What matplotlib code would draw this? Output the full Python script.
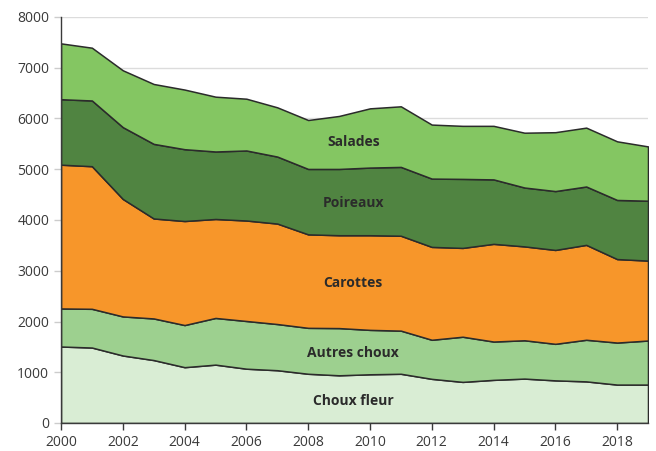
import matplotlib.pyplot as plt
import numpy as np

plt.rcParams['font.family'] = ['Open Sans', 'DejaVu Sans']

years = np.arange(2000, 2020)
choux_fleur = [1507, 1487, 1330, 1240, 1100, 1150, 1070, 1040, 970, 940,
               960, 970, 870, 810, 850, 875, 840, 820, 757, 757]
autres_choux = [750, 763, 770, 820, 830, 920, 940, 910, 905, 930,
                875, 850, 770, 890, 755, 755, 720, 820, 828, 868]
carottes = [2833, 2810, 2315, 1970, 2050, 1950, 1980, 1980, 1842, 1830,
            1865, 1870, 1830, 1750, 1925, 1850, 1850, 1870, 1645, 1575]
poireaux = [1290, 1295, 1415, 1470, 1415, 1330, 1380, 1320, 1289, 1306,
            1333, 1356, 1346, 1360, 1270, 1160, 1160, 1150, 1165, 1180]
salades = [1100, 1040, 1120, 1180, 1175, 1080, 1020, 970, 964, 1044,
           1167, 1194, 1064, 1045, 1055, 1080, 1160, 1160, 1155, 1070]

names = ['Choux fleur', 'Autres choux', 'Carottes', 'Poireaux', 'Salades']
colours = ['#d9edd4', '#9dd08f', '#f7962a', '#508441', '#84c662']
label_y = [430, 1380, 2760, 4330, 5540]

fig = plt.figure(figsize=(6.56, 4.51), dpi=100)
ax = fig.add_axes([61/656, 28/451, (648-61)/656, (423-17)/451])

ax.stackplot(years, choux_fleur, autres_choux, carottes, poireaux, salades,
             colors=colours, edgecolor='#2b2b2b', linewidth=1.1, zorder=2)

for name, ly in zip(names, label_y):
    ax.text(2009.46, ly, name, ha='center', va='center', fontsize=10,
            fontweight='bold', color='#2b2b2b', zorder=3)

ax.set_xlim(2000, 2019)
ax.set_ylim(0, 8000)
ax.set_xticks(np.arange(2000, 2019, 2))
ax.set_yticks(np.arange(0, 8001, 1000))
ax.yaxis.grid(True, color='#dcdcdc', linewidth=1, zorder=0)
ax.set_axisbelow(True)
for s in ['top', 'right']:
    ax.spines[s].set_visible(False)
for s in ['left', 'bottom']:
    ax.spines[s].set_color('#3a3a3a')
    ax.spines[s].set_linewidth(1.0)
ax.tick_params(axis='both', labelsize=10, labelcolor='#3a3a3a', width=1)
ax.tick_params(axis='x', length=5, color='#3a3a3a')
ax.tick_params(axis='y', length=5, color='#cccccc')

plt.savefig('out.png', dpi=100)
